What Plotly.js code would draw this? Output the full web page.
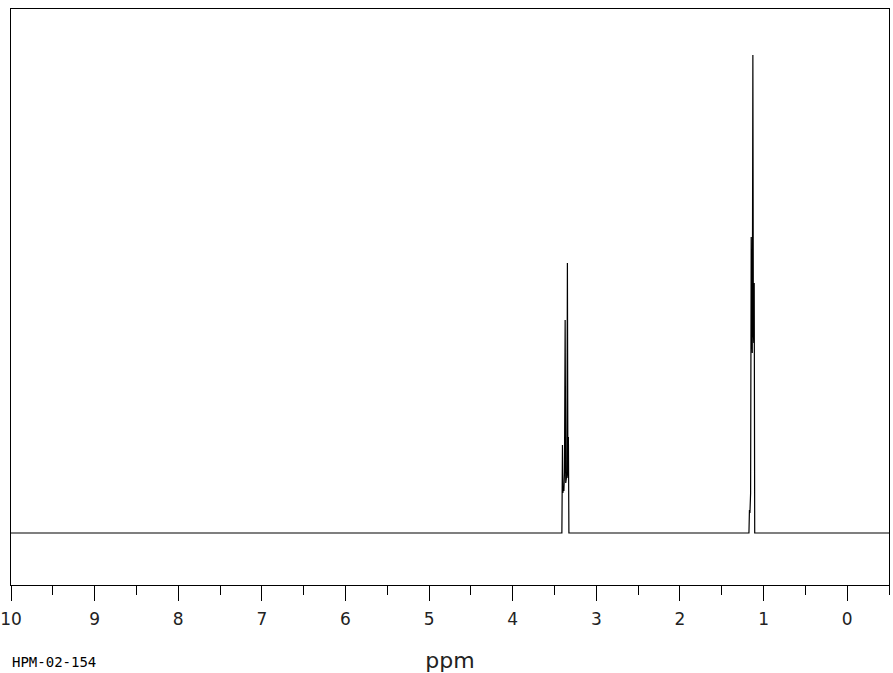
<!DOCTYPE html>
<html>
<head>
<meta charset="utf-8">
<script src="https://cdn.plot.ly/plotly-3.0.1.min.js"></script>
<style>html,body{margin:0;padding:0;background:#fff;}#chart{width:893px;height:673px;}</style>
</head>
<body>
<div id="chart"></div>
<script>
// Spectrum points (chemical shift in ppm, relative intensity)
const ppm = [10, 3.412, 3.405, 3.400, 3.394, 3.388, 3.381, 3.373, 3.366, 3.358, 3.352, 3.346, 3.340, 3.334, 3.328,
             1.175, 1.169, 1.163, 1.155, 1.148, 1.142, 1.135, 1.128, 1.122, 1.117, 1.112, 1.106, -0.5];
const intensity = [0, 0, 88, 40, 45, 42, 60, 213, 50, 55, 60, 270, 55, 96, 0,
                   0, 23, 20, 40, 296, 200, 180, 478, 200, 190, 250, 0, 0];
const tickValues = [10, 9, 8, 7, 6, 5, 4, 3, 2, 1, 0];
const tickLabels = ["10", "9", "8", "7", "6", "5", "4", "3", "2", "1", "0"];
const sampleId = "HPM-02-154";
const axisTitle = "ppm";

const trace = {
  x: ppm, y: intensity, type: 'scatter', mode: 'lines',
  line: {color: '#000', width: 1.2}, hoverinfo: 'skip'
};

const layout = {
  width: 893, height: 673,
  margin: {l: 11, r: 4, t: 9, b: 88},
  paper_bgcolor: '#fff', plot_bgcolor: '#fff',
  showlegend: false,
  font: {family: 'DejaVu Sans', color: '#000'},
  xaxis: {
    range: [10, -0.5], tickmode: 'array', tickvals: tickValues, ticktext: tickLabels,
    ticks: 'outside', ticklen: 15, tickwidth: 1, tickcolor: '#000',
    ticklabelstandoff: 4,
    showline: true, mirror: true, linecolor: '#000', linewidth: 1,
    showgrid: false, zeroline: false,
    tickfont: {size: 17, color: '#222', family: 'DejaVu Sans'},
    minor: {dtick: 0.5, tick0: 0, ticks: 'outside', ticklen: 9, tickwidth: 1, tickcolor: '#000', showgrid: false},
    title: {text: axisTitle, font: {size: 22, family: 'DejaVu Sans', color: '#222'}, standoff: 24}
  },
  yaxis: {
    range: [-52, 524], showticklabels: false, ticks: '',
    showline: true, mirror: true, linecolor: '#000', linewidth: 1,
    showgrid: false, zeroline: false
  },
  annotations: [{
    text: sampleId, xref: 'paper', yref: 'paper', x: -0.001, y: -0.134,
    xanchor: 'left', yanchor: 'middle', showarrow: false,
    font: {size: 14, family: 'DejaVu Sans Mono', color: '#000'}
  }]
};

Plotly.newPlot('chart', [trace], layout, {staticPlot: true});
</script>
</body>
</html>
